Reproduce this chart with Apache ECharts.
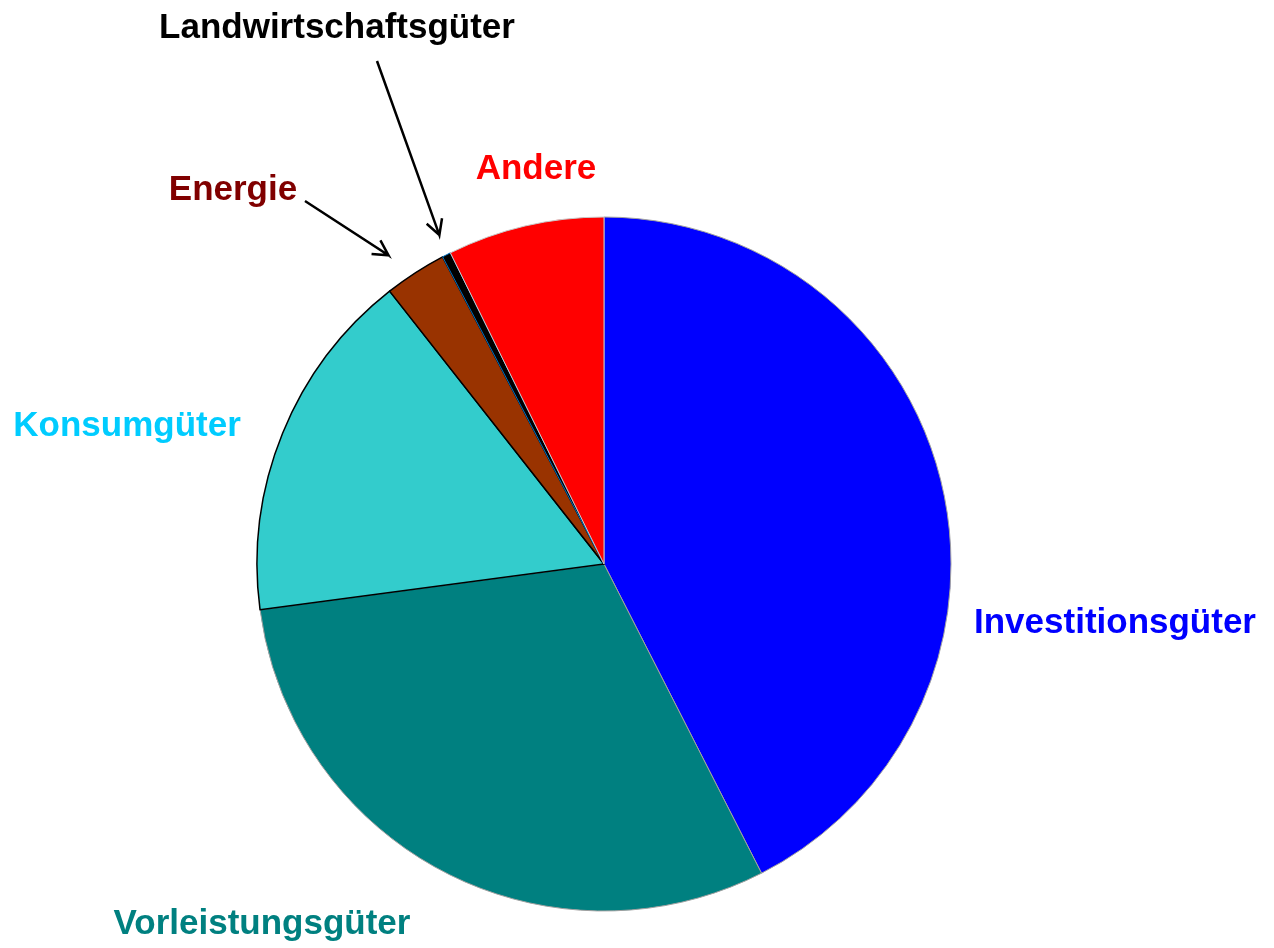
<!DOCTYPE html>
<html>
<head>
<meta charset="utf-8">
<script src="https://cdn.jsdelivr.net/npm/echarts@6/dist/echarts.min.js"></script>
<style>
  html, body { margin: 0; padding: 0; background: #fff; }
  #main { width: 1274px; height: 948px; }
</style>
</head>
<body>
<div id="main"></div>
<script>
// Anteile in Prozent
var categories = ["Investitionsgüter", "Vorleistungsgüter", "Konsumgüter", "Energie", "Landwirtschaftsgüter", "Andere"];
var values = [42.5, 30.4, 16.5, 2.9, 0.4, 7.3];
var sliceColors = ["#0000FF", "#008080", "#33CCCC", "#993300", "#000000", "#FF0000"];
var textColors = ["#0000FF", "#008080", "#00CCFF", "#800000", "#000000", "#FF0000"];
var borderColors = ["#a0a0a0", "#a0a0a0", "#000000", "#000000", "#0070C0", "#c8c8c8"];
var borderWidths = [1, 1, 1.5, 1.5, 1, 1];

// Lage der Beschriftungen
var labelPos = [
  [1115, 623],
  [262, 924],
  [127, 426],
  [233, 190],
  [337, 28],
  [536, 169]
];
// Beschriftungen mit Pfeil: Startpunkt und Abstand der Spitze vom Kreis
var arrowStart = {
  3: [305, 201],
  4: [377, 61]
};
var arrowGap = { 3: 32, 4: 21 };

var myChart = echarts.init(document.getElementById("main"));

var option = {
  animation: false,
  series: [
    {
      type: "pie",
      center: [604, 564],
      radius: 347,
      startAngle: 90,
      clockwise: true,
      label: {
        show: true,
        position: "outside",
        overflow: "none",
        fontFamily: "'Liberation Sans', Arial, sans-serif",
        fontWeight: "bold",
        fontSize: 35
      },
      labelLine: {
        show: true,
        length: 20,
        length2: 10,
        lineStyle: { color: "#000", width: 2.5 }
      },
      labelLayout: function (params) {
        var i = params.dataIndex;
        var res = {
          x: labelPos[i][0],
          y: labelPos[i][1],
          align: "center",
          verticalAlign: "middle"
        };
        if (arrowStart[i] && params.labelLinePoints) {
          var p0 = params.labelLinePoints[0];
          var s = arrowStart[i];
          var ax = s[0] - p0[0], ay = s[1] - p0[1];
          var al = Math.sqrt(ax * ax + ay * ay);
          ax /= al; ay /= al;
          // Spitze etwas außerhalb des Kreises
          var tip = [p0[0] + ax * arrowGap[i], p0[1] + ay * arrowGap[i]];
          var h = 17, w = 0.5;
          var c = Math.cos(w), sn = Math.sin(w);
          var w1 = [tip[0] + h * (ax * c - ay * sn), tip[1] + h * (ax * sn + ay * c)];
          var w2 = [tip[0] + h * (ax * c + ay * sn), tip[1] + h * (-ax * sn + ay * c)];
          res.labelLinePoints = [s, tip, w1, tip, w2];
        }
        return res;
      },
      data: categories.map(function (name, i) {
        return {
          name: name,
          value: values[i],
          itemStyle: {
            color: sliceColors[i],
            borderColor: borderColors[i],
            borderWidth: borderWidths[i]
          },
          label: { color: textColors[i] },
          labelLine: { show: arrowStart[i] !== undefined }
        };
      })
    }
  ]
};

myChart.setOption(option);
window.onresize = function () {
  myChart.resize();
};
</script>
</body>
</html>
